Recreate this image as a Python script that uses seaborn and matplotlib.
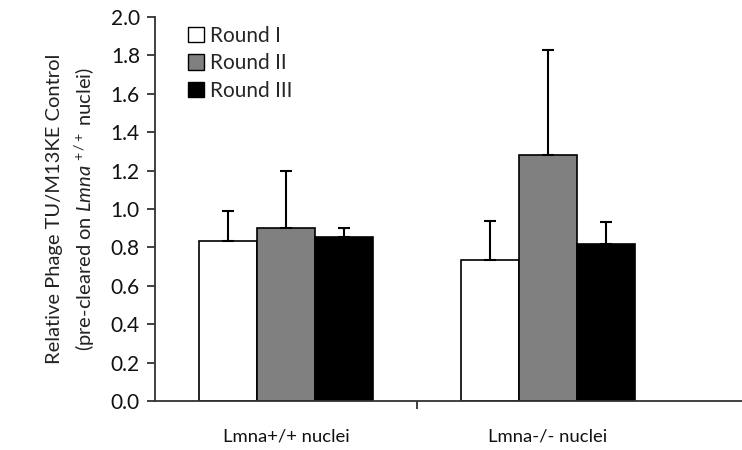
import numpy as np
import pandas as pd
import matplotlib
matplotlib.use("Agg")
import matplotlib.pyplot as plt
import seaborn as sns
from matplotlib.patches import Patch

# Data
groups = ["Lmna+/+ nuclei", "Lmna-/- nuclei"]
rounds = ["Round I", "Round II", "Round III"]
round1 = [0.835, 0.733]
round2 = [0.903, 1.283]
round3 = [0.856, 0.818]
err1 = [0.153, 0.203]
err2 = [0.295, 0.547]
err3 = [0.047, 0.113]

colors = ["#ffffff", "#808080", "#000000"]

values = [round1, round2, round3]
errors = [err1, err2, err3]
rows = []
for r, vals, errs in zip(rounds, values, errors):
    for g, v, e in zip(groups, vals, errs):
        rows.append({"group": g, "round": r, "value": v, "err": e})
df = pd.DataFrame(rows)

sns.set_theme(style="white")
plt.rcParams["font.family"] = ["Lato", "DejaVu Sans"]
plt.rcParams["mathtext.fontset"] = "custom"
plt.rcParams["mathtext.rm"] = "Lato"
plt.rcParams["mathtext.it"] = "Lato:italic"

fig = plt.figure(figsize=(7.42, 4.5), dpi=100)
ax = fig.add_axes([0.209, 0.109, 0.791, 0.853])

sns.barplot(data=df, x="group", y="value", hue="round", order=groups,
            hue_order=rounds, palette=colors, width=0.664, gap=0,
            edgecolor="black", linewidth=1.2, errorbar=None, ax=ax,
            legend=False)

# upward-only error bars on each bar
for patch_group, r in zip(np.array_split(ax.patches[:6], 3), rounds):
    sub = df[df["round"] == r].set_index("group").loc[groups]
    xs = [p.get_x() + p.get_width() / 2 for p in patch_group]
    ax.errorbar(xs, sub["value"], yerr=[np.zeros(len(xs)), sub["err"]],
                fmt="none", ecolor="black", elinewidth=1.5, capsize=4,
                capthick=1.5)

ax.set_ylim(0, 2.0)
ticks = np.arange(0, 2.01, 0.2)
ax.set_yticks(ticks)
ax.set_yticklabels([f"{v:.1f}" for v in ticks])
ax.set_xlim(-0.5, 1.74)
ax.set_xticks([0, 1])
ax.set_xticklabels(groups)
ax.set_xticks([0.5], minor=True)
ax.tick_params(axis="x", which="major", length=0, pad=20, labelsize=13.3,
               labelcolor="#111111")
ax.tick_params(axis="x", which="minor", length=6, width=1.3, color="#333333",
               direction="out", bottom=True)
ax.tick_params(axis="y", length=6, width=1.3, color="#333333",
               direction="out", left=True, labelsize=15, pad=5,
               labelcolor="#111111")

for side in ["top", "right"]:
    ax.spines[side].set_visible(False)
for side in ["left", "bottom"]:
    ax.spines[side].set_color("#333333")
    ax.spines[side].set_linewidth(1.3)

ax.set_xlabel("")
ax.set_ylabel("Relative Phage TU/M13KE Control\n"
              r"(pre-cleared on $\mathit{Lmna}^{\,+/+}$ nuclei)",
              fontsize=14.5, linespacing=1.5, labelpad=10, color="#222222")

handles = [Patch(facecolor=c, edgecolor="black", linewidth=1.0) for c in colors]
ax.legend(handles, rounds, loc="upper left", bbox_to_anchor=(0.035, 1.01),
          frameon=False, fontsize=15, handlelength=0.75, handleheight=0.75,
          handletextpad=0.3, labelspacing=0.36, borderaxespad=0.2)

fig.savefig("out.png", dpi=100)
